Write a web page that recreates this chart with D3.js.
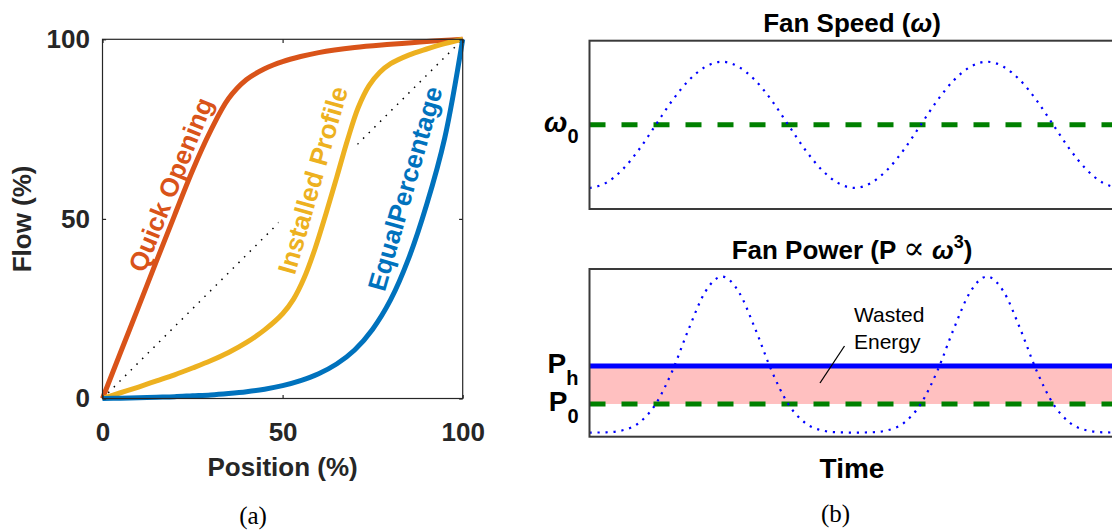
<!DOCTYPE html>
<html>
<head>
<meta charset="utf-8">
<script src="https://cdn.jsdelivr.net/npm/d3@7/dist/d3.min.js"></script>
<style>
  html, body { margin: 0; padding: 0; background: #fff; }
  svg { display: block; }
</style>
</head>
<body>
<svg id="fig" width="1112" height="531"></svg>
<script>
// ---------- (a) valve characteristics ----------
const positionTicks = [0, 50, 100];
const flowTicks = [0, 50, 100];

const quickPos  = [0, 5, 10, 15, 20, 25, 30, 35, 40, 45, 50, 55, 60, 70, 80, 90, 100];
const quickFlow = [0, 12.8, 25.5, 38.3, 51, 63.5, 74.5, 83.5, 88.8, 91.8, 93.8, 95.2, 96.3, 97.7, 98.6, 99.4, 100];

const installedPos  = [0, 5, 10, 15, 20, 25, 30, 35, 40, 45, 50, 53, 56, 59, 62, 65, 68, 71, 74, 77, 80, 85, 90, 95, 100];
const installedFlow = [0, 1.6, 3.2, 4.9, 6.6, 8.5, 10.5, 12.8, 15.6, 19.1, 23.6, 27.6, 33.6, 41.7, 51.3, 61.5, 71.9, 81.0, 87.1, 90.8, 93.2, 95.6, 97.3, 98.8, 100];

const equalPos  = [0, 5, 10, 15, 20, 25, 30, 35, 40, 45, 50, 55, 60, 65, 70, 75, 80, 85, 90, 95, 100];
const equalFlow = [0, 0.1, 0.2, 0.35, 0.5, 0.75, 1.0, 1.4, 1.9, 2.6, 3.6, 5.0, 6.9, 9.6, 13.5, 19.3, 27.5, 39, 54, 72.5, 100];

const linearPos  = [0, 100];
const linearFlow = [0, 100];

// ---------- (b) fan speed / power over time ----------
const timeSteps = [0, 1, 2, 3, 4, 5, 6, 7, 8, 9, 10, 11, 12, 13, 14, 15, 16,
                   17, 18, 19, 20, 21, 22, 23, 24, 25, 26, 27, 28, 29, 30, 31, 32];
const fanSpeed = [0.25, 0.31, 0.47, 0.71, 1.00, 1.29, 1.53, 1.69, 1.75, 1.69, 1.53, 1.29, 1.00, 0.71, 0.47, 0.31, 0.25,
                  0.31, 0.47, 0.71, 1.00, 1.29, 1.53, 1.69, 1.75, 1.69, 1.53, 1.29, 1.00, 0.71, 0.47, 0.31, 0.25];
const fanPower = [0.02, 0.03, 0.10, 0.36, 1.00, 2.13, 3.58, 4.85, 5.36, 4.85, 3.58, 2.13, 1.00, 0.36, 0.10, 0.03, 0.02,
                  0.03, 0.10, 0.36, 1.00, 2.13, 3.58, 4.85, 5.36, 4.85, 3.58, 2.13, 1.00, 0.36, 0.10, 0.03, 0.02];
const speedRef = 1.0;     // omega_0
const powerRef = 1.0;     // P_0
const powerHeld = 2.3;    // P_h

const SANS = "'Liberation Sans', Arial, Helvetica, sans-serif";
const SERIF = "'Liberation Serif', 'Times New Roman', serif";

const svg = d3.select("#fig").style("font-family", SANS);
svg.append("rect").attr("width", 1112).attr("height", 531).attr("fill", "#fff");

// ================= panel (a) =================
const xA = d3.scaleLinear().domain([0, 100]).range([102.5, 462.7]);
const yA = d3.scaleLinear().domain([0, 100]).range([398.5, 39.3]);
const gA = svg.append("g");
const axisInk = "#262626";
const tickLen = 3.6;

const lineA = (xs, ys, curve) => d3.line()
  .x(i => xA(xs[i])).y(i => yA(ys[i]))
  .curve(curve)(d3.range(xs.length));

// diagonal reference
gA.append("path")
  .attr("d", lineA(linearPos, linearFlow, d3.curveLinear))
  .attr("fill", "none").attr("stroke", "#000").attr("stroke-width", 1.5)
  .attr("stroke-dasharray", "1.5,6.5");

// curve labels: centre point (px), angle in degrees
const valveLabels = [
  { text: "Quick Opening",     color: "#D95319", px: 173.0, py: 185.5, angle: 68, dy: "0.25em", pad: null },
  { text: "Installed Profile", color: "#EDB120", px: 312.5, py: 180.0, angle: 74, dy: "0.36em", pad: [-21, 33] },
  { text: "EqualPercentage",   color: "#0072BD", px: 407.5, py: 189.2, angle: 74, dy: "0.25em", pad: null }
];

// white backing behind the installed-profile label
valveLabels.filter(d => d.pad).forEach(d => {
  gA.append("rect")
    .attr("transform", `translate(${d.px},${d.py}) rotate(${-d.angle})`)
    .attr("x", -108).attr("width", 216)
    .attr("y", d.pad[0]).attr("height", d.pad[1] - d.pad[0])
    .attr("fill", "#fff");
});

const curvesA = [
  { xs: quickPos, ys: quickFlow, color: "#D95319" },
  { xs: installedPos, ys: installedFlow, color: "#EDB120" },
  { xs: equalPos, ys: equalFlow, color: "#0072BD" }
];
curvesA.forEach(c => {
  gA.append("path")
    .attr("d", lineA(c.xs, c.ys, d3.curveCatmullRom.alpha(0.5)))
    .attr("fill", "none").attr("stroke", c.color)
    .attr("stroke-width", 5).attr("stroke-linejoin", "round");
});

valveLabels.forEach(d => {
  gA.append("text")
    .attr("transform", `translate(${d.px},${d.py}) rotate(${-d.angle})`)
    .attr("text-anchor", "middle").attr("dy", d.dy)
    .attr("font-size", 26).attr("font-weight", "bold")
    .attr("fill", d.color).text(d.text);
});

// axes box
gA.append("rect")
  .attr("x", xA(0)).attr("y", yA(100))
  .attr("width", xA(100) - xA(0)).attr("height", yA(0) - yA(100))
  .attr("fill", "none").attr("stroke", axisInk).attr("stroke-width", 1.2);

function styleAxis(sel) {
  sel.select(".domain").remove();
  sel.selectAll(".tick line").attr("stroke", axisInk).attr("stroke-width", 1.2);
  sel.selectAll(".tick text")
    .style("font-family", SANS)
    .attr("font-size", 26).attr("font-weight", "bold").attr("fill", axisInk);
}
gA.append("g").attr("transform", `translate(0,${yA(0)})`)
  .call(d3.axisBottom(xA).tickValues(positionTicks).tickSizeInner(-tickLen).tickSizeOuter(0).tickPadding(24))
  .call(styleAxis);
gA.append("g").attr("transform", `translate(0,${yA(100)})`)
  .call(d3.axisTop(xA).tickValues(positionTicks).tickSizeInner(-tickLen).tickSizeOuter(0).tickFormat(""))
  .call(styleAxis);
gA.append("g").attr("transform", `translate(${xA(0)},0)`)
  .call(d3.axisLeft(yA).tickValues(flowTicks).tickSizeInner(-tickLen).tickSizeOuter(0).tickPadding(12.5))
  .call(styleAxis);
gA.append("g").attr("transform", `translate(${xA(100)},0)`)
  .call(d3.axisRight(yA).tickValues(flowTicks).tickSizeInner(-tickLen).tickSizeOuter(0).tickFormat(""))
  .call(styleAxis);

gA.append("text").attr("x", (xA(0) + xA(100)) / 2).attr("y", 476)
  .attr("text-anchor", "middle").attr("font-size", 26).attr("font-weight", "bold")
  .attr("fill", axisInk).text("Position (%)");
gA.append("text").attr("transform", `translate(31,${(yA(0) + yA(100)) / 2}) rotate(-90)`)
  .attr("text-anchor", "middle").attr("font-size", 26).attr("font-weight", "bold")
  .attr("fill", axisInk).text("Flow (%)");

svg.append("text").attr("x", 253).attr("y", 524).attr("text-anchor", "middle")
  .style("font-family", SERIF)
  .attr("font-size", 25).attr("fill", "#000").text("(a)");

// ================= panel (b) =================
const xB = d3.scaleLinear().domain([0, 32]).range([589.5, 1119.5]);
const ySpeed = d3.scaleLinear().domain([0, 2]).range([209, 40.7]);
const yPower = d3.scaleLinear().domain([-0.12, 5.62]).range([436.7, 269]);
const boxInk = "#3a3a3a";
const gB = svg.append("g");

const lineB = (ys, yScale) => d3.line()
  .x(i => xB(timeSteps[i])).y(i => yScale(ys[i]))
  .curve(d3.curveMonotoneX)(d3.range(timeSteps.length));

// --- fan speed
gB.append("line")
  .attr("x1", xB(0)).attr("x2", xB(32))
  .attr("y1", ySpeed(speedRef)).attr("y2", ySpeed(speedRef))
  .attr("stroke", "#008000").attr("stroke-width", 5).attr("stroke-dasharray", "16,16");
gB.append("path").attr("d", lineB(fanSpeed, ySpeed))
  .attr("fill", "none").attr("stroke", "#0000FF").attr("stroke-width", 2.2)
  .attr("stroke-dasharray", "2.2,5.8");
gB.append("rect")
  .attr("x", xB(0)).attr("y", ySpeed(2))
  .attr("width", xB(32) - xB(0)).attr("height", ySpeed(0) - ySpeed(2))
  .attr("fill", "none").attr("stroke", boxInk).attr("stroke-width", 2);

// --- fan power
gB.append("rect")
  .attr("x", xB(0)).attr("y", yPower(powerHeld))
  .attr("width", xB(32) - xB(0)).attr("height", yPower(powerRef) - yPower(powerHeld))
  .attr("fill", "#FFC0C0");
gB.append("line")
  .attr("x1", xB(0)).attr("x2", xB(32))
  .attr("y1", yPower(powerHeld)).attr("y2", yPower(powerHeld))
  .attr("stroke", "#0000FF").attr("stroke-width", 5);
gB.append("line")
  .attr("x1", xB(0)).attr("x2", xB(32))
  .attr("y1", yPower(powerRef)).attr("y2", yPower(powerRef))
  .attr("stroke", "#008000").attr("stroke-width", 5).attr("stroke-dasharray", "16,16");
gB.append("path").attr("d", lineB(fanPower, yPower))
  .attr("fill", "none").attr("stroke", "#0000FF").attr("stroke-width", 2.2)
  .attr("stroke-dasharray", "2.2,5.8");
gB.append("rect")
  .attr("x", xB(0)).attr("y", yPower(5.62))
  .attr("width", xB(32) - xB(0)).attr("height", yPower(-0.12) - yPower(5.62))
  .attr("fill", "none").attr("stroke", boxInk).attr("stroke-width", 2);

// annotation
gB.append("line").attr("x1", 844.5).attr("y1", 346).attr("x2", 820).attr("y2", 383)
  .attr("stroke", "#000").attr("stroke-width", 1.3);
const wasted = gB.append("text").attr("font-size", 21).attr("fill", "#000");
wasted.append("tspan").attr("x", 854).attr("y", 322).text("Wasted");
wasted.append("tspan").attr("x", 854).attr("y", 349).text("Energy");

// titles
const t1 = gB.append("text").attr("x", 852).attr("y", 32).attr("text-anchor", "middle")
  .attr("font-size", 26).attr("font-weight", "bold").attr("fill", "#000");
t1.append("tspan").text("Fan Speed (");
t1.append("tspan").attr("font-style", "italic").text("ω");
t1.append("tspan").text(")");

const t2 = gB.append("text").attr("x", 852).attr("y", 259).attr("text-anchor", "middle")
  .attr("font-size", 26).attr("font-weight", "bold").attr("fill", "#000");
t2.append("tspan").text("Fan Power (P ");
t2.append("tspan").attr("font-weight", "normal").attr("font-size", 32)
  .style("font-family", "'DejaVu Serif', serif").text("∝");
t2.append("tspan").text(" ");
t2.append("tspan").attr("font-style", "italic").text("ω");
t2.append("tspan").attr("font-size", 18).attr("dy", -11).text("3");
t2.append("tspan").attr("dy", 11).text(")");

// y-level labels
function levelLabel(main, sub, baseY, subDy, italic) {
  const t = gB.append("text").attr("x", 578.5).attr("y", baseY).attr("text-anchor", "end")
    .attr("font-weight", "bold").attr("fill", "#000");
  t.append("tspan").attr("font-size", 28).attr("font-style", italic ? "italic" : "normal").text(main);
  t.append("tspan").attr("font-size", 20).attr("dy", subDy).text(sub);
}
levelLabel("ω", "0", 132, 11, true);
levelLabel("P", "h", 373, 12, false);
levelLabel("P", "0", 411, 12, false);

gB.append("text").attr("x", 852).attr("y", 478).attr("text-anchor", "middle")
  .attr("font-size", 28).attr("font-weight", "bold").attr("fill", "#000").text("Time");

svg.append("text").attr("x", 835.5).attr("y", 522).attr("text-anchor", "middle")
  .style("font-family", SERIF)
  .attr("font-size", 25).attr("fill", "#000").text("(b)");
</script>
</body>
</html>
